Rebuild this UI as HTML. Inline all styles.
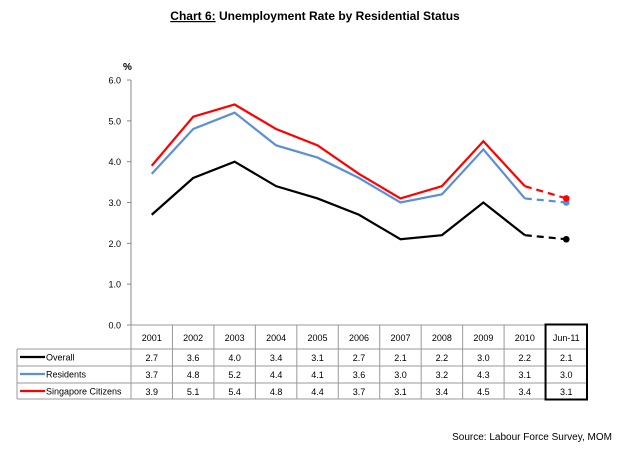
<!DOCTYPE html>
<html><head><meta charset="utf-8"><style>
body{margin:0;background:#fff;}
svg{display:block;font-family:"Liberation Sans",Arial,sans-serif;}
</style></head><body>
<svg id="chart" width="630" height="450" viewBox="0 0 630 450">
<text x="315" y="20" text-anchor="middle" font-size="12" font-weight="bold"><tspan text-decoration="underline">Chart 6:</tspan>  Unemployment Rate by Residential Status</text>
<text x="123" y="70" font-size="10" font-weight="bold">%</text>
<g id="axes"></g>
<g id="series"></g>
<g id="table"></g>
<text x="612" y="440" text-anchor="end" font-size="10">Source: Labour Force Survey, MOM</text>
</svg>
<script>
const categories=["2001","2002","2003","2004","2005","2006","2007","2008","2009","2010","Jun-11"];
const overall=[2.7,3.6,4.0,3.4,3.1,2.7,2.1,2.2,3.0,2.2,2.1];
const residents=[3.7,4.8,5.2,4.4,4.1,3.6,3.0,3.2,4.3,3.1,3.0];
const citizens=[3.9,5.1,5.4,4.8,4.4,3.7,3.1,3.4,4.5,3.4,3.1];
const yTicks=[0,1,2,3,4,5,6];
const seriesNames=["Overall","Residents","Singapore Citizens"];
const seriesColors=["#000000","#5b8fd6","#ff0000"];

const NS="http://www.w3.org/2000/svg";
const X0=131,X1=587,Y0=325,Y1=80;
const cw=(X1-X0)/categories.length;
const xs=i=>X0+cw*(i+0.5);
const ys=v=>Y0-(v-0)/(6-0)*(Y0-Y1);
function mk(tag,attrs,parent,text){const e=document.createElementNS(NS,tag);for(const k in attrs)e.setAttribute(k,attrs[k]);if(text!==undefined)e.textContent=text;parent.appendChild(e);return e;}
const axes=document.getElementById('axes');
mk('line',{x1:X0,y1:Y1,x2:X0,y2:Y0,stroke:'#888','stroke-width':1},axes);
yTicks.forEach(t=>{
  const y=ys(t);
  const tk=mk('line',{x1:X0-4,y1:y,x2:X0,y2:y,stroke:'#888'},axes);
  
  
  const lb=mk('text',{x:X0-10,y:y+3.5,'text-anchor':'end','font-size':9},axes,t.toFixed(1));
  
  
});
const ser=document.getElementById('series');
[overall,residents,citizens].forEach((d,s)=>{
  const n=d.length;
  let pts=d.slice(0,n-1).map((v,i)=>xs(i)+','+ys(v)).join(' ');
  const pl=mk('polyline',{points:pts,fill:'none',stroke:seriesColors[s],'stroke-width':2.2},ser);
  
  
  const dl=mk('line',{x1:xs(n-2),y1:ys(d[n-2]),x2:xs(n-1),y2:ys(d[n-1]),stroke:seriesColors[s],'stroke-width':2.2,'stroke-dasharray':'7,5'},ser);
  
  
  const c=mk('circle',{cx:xs(n-1),cy:ys(d[n-1]),r:3.3,fill:seriesColors[s]},ser);
  
  
});
const tb=document.getElementById('table');
const rowY=[325,349,366,383,399];
// header vertical lines
for(let i=0;i<=categories.length;i++){
  const x=X0+cw*i;
  mk('line',{x1:x,y1:325,x2:x,y2:399,stroke:'#999'},tb);
}
mk('line',{x1:17,y1:349,x2:X1,y2:349,stroke:'#999'},tb);
mk('line',{x1:17,y1:366,x2:X1,y2:366,stroke:'#999'},tb);
mk('line',{x1:17,y1:383,x2:X1,y2:383,stroke:'#999'},tb);
mk('line',{x1:17,y1:399,x2:X1,y2:399,stroke:'#999'},tb);
mk('line',{x1:17,y1:349,x2:17,y2:399,stroke:'#999'},tb);
mk('line',{x1:X0,y1:325,x2:X1,y2:325,stroke:'#999'},tb);
categories.forEach((c,i)=>{
  const t=mk('text',{x:xs(i),y:341,'text-anchor':'middle','font-size':9},tb,c);
  
  
});
[overall,residents,citizens].forEach((d,s)=>{
  const ty=rowY[s+1]+12;
  const ll=mk('line',{x1:20,y1:ty-4,x2:45,y2:ty-4,stroke:seriesColors[s],'stroke-width':2.2},tb);
  
  
  const ln=mk('text',{x:46,y:ty-0.5,'font-size':9},tb,seriesNames[s]);
  
  
  d.forEach((v,i)=>{
    const t=mk('text',{x:xs(i),y:ty,'text-anchor':'middle','font-size':9},tb,v.toFixed(1));
    
    
  });
});
const hb=mk('rect',{x:X0+cw*(categories.length-1),y:324.5,width:cw,height:75,fill:'none',stroke:'#000','stroke-width':2},tb);


</script>
</body></html>
